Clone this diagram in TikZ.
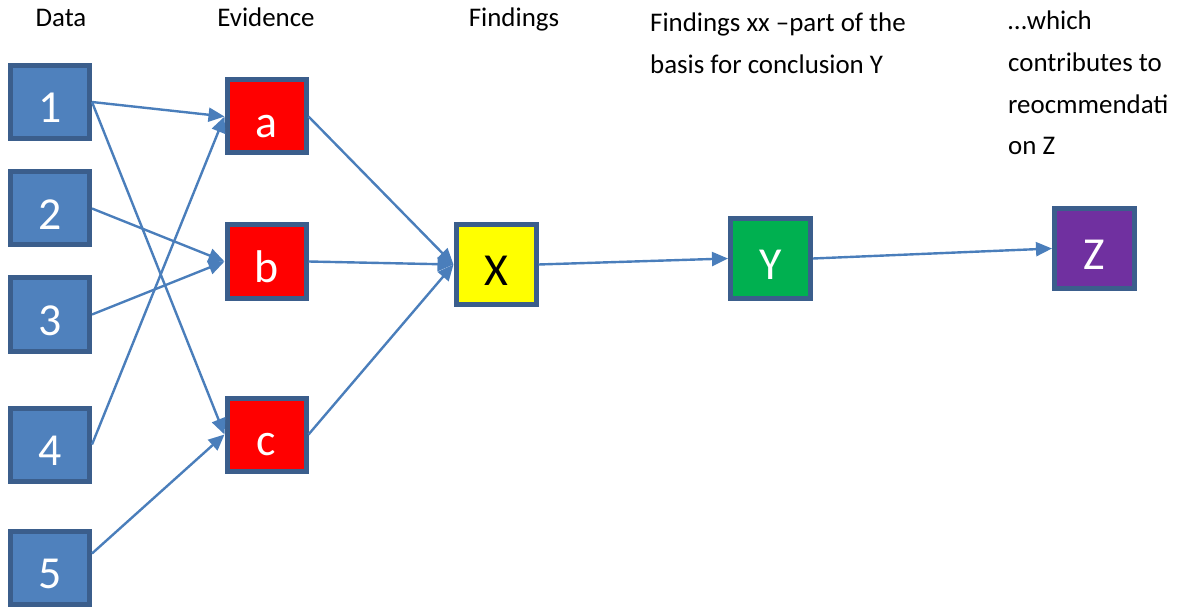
\documentclass[tikz,border=0pt]{standalone}
\usepackage{fontspec}
\setmainfont{Carlito}
\usetikzlibrary{arrows.meta}
\definecolor{boxedge}{HTML}{3B5E8C}
\definecolor{datafill}{HTML}{4F81BD}
\definecolor{linkblue}{HTML}{4A7EBB}
\definecolor{evred}{HTML}{FF0000}
\definecolor{findyellow}{HTML}{FFFF00}
\definecolor{concgreen}{HTML}{00B050}
\definecolor{recpurple}{HTML}{7030A0}
\tikzset{
  card/.style={draw=boxedge, line width=5bp, minimum width=79bp, minimum height=73bp,
    inner sep=0pt, text height=42bp, text depth=0pt, text=white,
    font=\fontsize{46}{50}\selectfont},
  sqcard/.style={card, minimum width=80bp, minimum height=80bp},
  heading/.style={anchor=base, inner sep=0pt, font=\fontsize{27}{32}\selectfont},
  note/.style={anchor=base west, inner sep=0pt, font=\fontsize{27}{32}\selectfont},
  link/.style={draw=linkblue, line width=2.4bp, -{Triangle[length=16bp,width=14bp]}}
}
\begin{document}
\begin{tikzpicture}[x=1bp, y=-1bp]
\useasboundingbox (0,0) rectangle (1181,608);

% column headings
\node[heading] (hdata) at (61,27) {Data};
\node[heading] (hevid) at (266,27) {Evidence};
\node[heading] (hfind) at (514,27) {Findings};
\node[note] (hconc1) at (650,32) {Findings xx –part of the};
\node[note] (hconc2) at (650,74) {basis for conclusion Y};
\node[note] (hrec1) at (1008,30) {…which};
\node[note] (hrec2) at (1008,71.7) {contributes to};
\node[note] (hrec3) at (1008,113.4) {reocmmendati};
\node[note] (hrec4) at (1008,155) {on Z};

% data items
\node[card, fill=datafill] (d1) at (50,102) {1};
\node[card, fill=datafill] (d2) at (50,208.5) {2};
\node[card, fill=datafill] (d3) at (50,314.5) {3};
\node[card, fill=datafill] (d4) at (50,444.5) {4};
\node[card, fill=datafill] (d5) at (50,567.5) {5};

% evidence
\node[card, fill=evred] (ea) at (266.5,116.5) {a};
\node[card, fill=evred] (eb) at (266.5,261.5) {b};
\node[card, fill=evred] (ec) at (266.5,434.5) {c};

% findings, conclusion, recommendation
\node[sqcard, fill=findyellow, text=black] (fx) at (496,264.5) {X};
\node[sqcard, fill=concgreen] (cy) at (770.5,258.5) {Y};
\node[sqcard, fill=recpurple] (rz) at (1094.5,248.5) {Z};

% data to evidence
\draw[link] (d1.east) -- (ea.west);
\draw[link] (d1.east) -- (ec.west);
\draw[link] (d2.east) -- (eb.west);
\draw[link] (d3.east) -- (eb.west);
\draw[link] (d4.east) -- (ea.west);
\draw[link] ([yshift=14bp]d5.east) -- (ec.west);

% evidence to findings
\draw[link] (ea.east) -- (fx.west);
\draw[link] (eb.east) -- (fx.west);
\draw[link] (ec.east) -- (fx.west);

% findings onwards
\draw[link] (fx.east) -- (cy.west);
\draw[link] (cy.east) -- (rz.west);
\end{tikzpicture}
\end{document}
